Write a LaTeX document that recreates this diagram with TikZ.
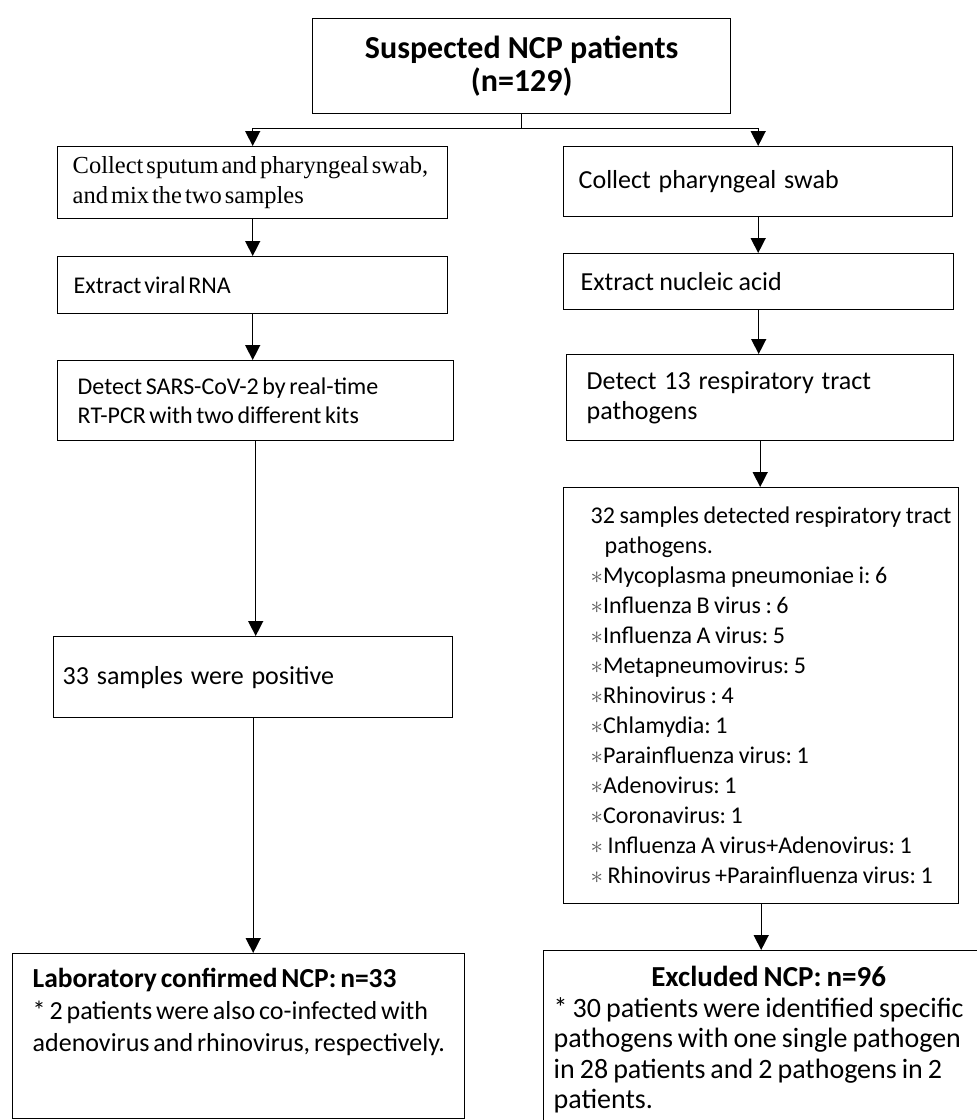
\documentclass[tikz,border=0pt]{standalone}
\usepackage{fontspec}
\setmainfont{Carlito}
\newfontfamily\timesface{Liberation Serif}
\usetikzlibrary{arrows.meta}

\frenchspacing
\newcommand\headsize{\fontsize{32}{33}\selectfont\bfseries}
\newcommand\serifsize{\fontsize{24.5}{30}\selectfont\timesface}
\newcommand\bodysize{\fontsize{24}{29}\selectfont}
\newcommand\widesize{\fontsize{26}{30}\selectfont}
\newcommand\listsize{\fontsize{24}{30}\selectfont}
\newcommand\confsize{\fontsize{26}{32}\selectfont}
\newcommand\exclsize{\fontsize{28}{30.5}\selectfont}
\newcommand\astmark{{\color{black!65}$\ast$}}

\begin{document}
\begin{tikzpicture}[
  x=1pt, y=-1pt,
  box/.style={rectangle, draw, line width=1.4pt, anchor=north west,
              align=left, inner ysep=0pt, font=\bodysize},
  gap/.style={execute at begin node={\spaceskip=#1 plus 0.05em\relax}},
  pad/.style={inner xsep=0pt,
              execute at begin node={\leftskip=#1\rightskip=-80pt plus 1fil\relax}},
  arr/.style={line width=1.4pt, -{Triangle[width=15pt,length=15pt]}},
  link/.style={line width=1.4pt}
]
\useasboundingbox (0,0) rectangle (977,1120);
% top
\node[box, align=center, font=\headsize, gap=0.226em, minimum width=418pt,
      minimum height=95pt] (susp) at (312,18) {Suspected NCP patients\\(n=129)};
% left column: SARS-CoV-2
\node[box, font=\serifsize, minimum width=390pt, minimum height=72pt,
      text width=390pt, pad=15pt, gap=3pt] (collect) at (57,146)
      {Collect sputum and pharyngeal swab,\\and mix the two samples};
\node[box, minimum width=390pt, minimum height=57pt, text width=390pt,
      pad=16pt, gap=0.12em] (rna) at (57,256) {Extract viral RNA};
\node[box, minimum width=396pt, minimum height=80pt, text width=396pt,
      pad=20pt, gap=0.15em] (sars) at (57,360)
      {Detect SARS-CoV-2 by real-time\\RT-PCR with two different kits};
\node[box, font=\widesize, minimum width=399pt, minimum height=81pt,
      text width=399pt, pad=9pt, gap=0.3em] (pos) at (53,636) {33 samples were positive};
\node[box, inner xsep=20pt] (conf) at (12,953)
      {\parbox[t][165pt][t]{412pt}{\raggedright\confsize
       \spaceskip=0.15em plus 0.05em\rightskip=-60pt plus 1fil\relax\vspace*{14pt}%
       {\fontsize{27.5}{32}\selectfont\bfseries Laboratory confirmed NCP: n=33}\\
       {*} 2 patients were also co-infected with\\
       adenovirus and rhinovirus, respectively.}};
% right column: other pathogens
\node[box, font=\widesize, minimum width=389pt, minimum height=70pt,
      text width=389pt, pad=15pt, gap=0.3em] (swab) at (563,146) {Collect pharyngeal swab};
\node[box, font=\widesize, minimum width=390pt, minimum height=56pt,
      text width=390pt, pad=17pt, gap=0.2em] (nucl) at (563,253) {Extract nucleic acid};
\node[box, font=\widesize, minimum width=387pt, minimum height=86pt,
      text width=387pt, pad=20pt, gap=0.3em] (resp) at (566,354)
      {Detect 13 respiratory tract\\pathogens};
\node[box, font=\listsize, minimum width=395pt, minimum height=416pt,
      text width=395pt, pad=27pt, gap=0.19em] (found) at (563,487)
      {32 samples detected respiratory tract\\
       \hspace*{14pt}pathogens.\\
       \astmark Mycoplasma pneumoniae i: 6\\
       \astmark Influenza B virus : 6\\
       \astmark Influenza A virus: 5\\
       \astmark Metapneumovirus: 5\\
       \astmark Rhinovirus : 4\\
       \astmark Chlamydia: 1\\
       \astmark Parainfluenza virus: 1\\
       \astmark Adenovirus: 1\\
       \astmark Coronavirus: 1\\
       \astmark\ Influenza A virus+Adenovirus: 1\\
       \astmark\ Rhinovirus +Parainfluenza virus: 1};
\node[box, font=\exclsize, minimum width=440pt, minimum height=178pt,
      text width=440pt, pad=10pt, gap=0.18em] (excl) at (543,950)
      {\makebox[430pt][c]{\fontsize{29}{30.5}\selectfont\bfseries Excluded NCP: n=96}\\
       {*} 30 patients were identified specific\\
       pathogens with one single pathogen\\
       in 28 patients and 2 pathogens in 2\\
       patients.};
% connectors
\draw[link] (susp.south) -- ++(0,14) coordinate (split);
\draw[arr] (split) -| (collect.north);
\draw[arr] (split) -| (swab.north);
\draw[arr] (collect.south) -- (collect.south |- rna.north);
\draw[arr] (rna.south) -- (rna.south |- sars.north);
\draw[arr] (sars.south) -- (sars.south |- pos.north);
\draw[arr] (pos.south) -- (pos.south |- conf.north);
\draw[arr] (swab.south) -- (swab.south |- nucl.north);
\draw[arr] (nucl.south) -- (nucl.south |- resp.north);
\draw[arr] (resp.south) -- (resp.south |- found.north);
\draw[arr] (found.south) -- (found.south |- excl.north);
\end{tikzpicture}
\end{document}
